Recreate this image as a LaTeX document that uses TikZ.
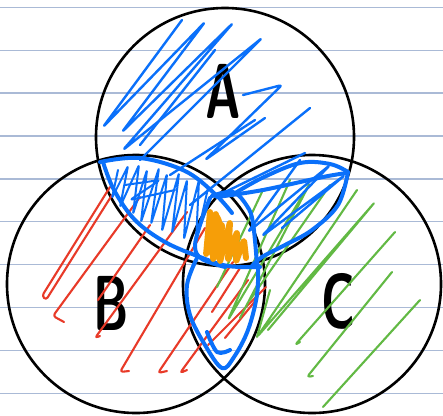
\documentclass[tikz,border=0pt]{standalone}
\definecolor{ruleblue}{RGB}{170,186,214}
\definecolor{penblue}{RGB}{10,112,250}
\definecolor{penred}{RGB}{232,58,40}
\definecolor{pengreen}{RGB}{98,185,68}
\definecolor{penorange}{RGB}{246,158,8}
\begin{document}
\begin{tikzpicture}[x=1pt,y=-1pt,
  rule/.style={draw=ruleblue,line width=1.3pt},
  ring/.style={draw=black,line width=2.6pt},
  bluepen/.style={draw=penblue,line width=2.4pt,line cap=round,line join=round,rounded corners=3pt},
  bluethick/.style={draw=penblue,line width=4pt,line cap=round,line join=round},
  redpen/.style={draw=penred,line width=2.1pt,line cap=round,line join=round,rounded corners=3pt},
  greenpen/.style={draw=pengreen,line width=2.1pt,line cap=round,line join=round,rounded corners=3pt},
  orangepen/.style={draw=penorange,line width=6pt,line cap=round,line join=round,rounded corners=2pt},
  letter/.style={font=\sffamily\bfseries\fontsize{78}{78}\selectfont,xscale=0.62,inner sep=0pt}]
\useasboundingbox (0,0) rectangle (443,415);
\fill[white] (0,0) rectangle (443,415);
% ruled paper
\foreach \yy in {7.3,50.2,93.1,136,178.9,221.8,264.7,307.6,350.5,393.4}
  \draw[rule] (0,\yy) -- (443,\yy);
% circles
\draw[ring] (225,137) circle[radius=129pt];
\draw[ring] (136,284) circle[radius=129pt];
\draw[ring] (312,284) circle[radius=129pt];
% labels
\node[letter] (la) at (223,91) {A};
\node[letter] (lb) at (111,303) {B};
\node[letter] (lc) at (338,301) {C};
% red hatching in B
\draw[redpen] (110,187) -- (42,296) -- (46,300) -- (112,195);
\draw[redpen] (140,197) -- (53,316) -- (64,322);
\draw[redpen] (187,212) -- (95,338) -- (100,336);
\draw[redpen] (205,228) -- (120,372) -- (129,371);
\draw[redpen] (233,262) -- (158,373) -- (167,371);
\draw[redpen] (248,280) -- (180,373) -- (187,370);
\draw[redpen] (266,287) -- (208,345);
\draw[redpen] (150,225) -- (98,300);
\draw[redpen] (240,268) -- (212,312);
\draw[redpen] (256,300) -- (225,338);
% green hatching in C
\draw[greenpen] (262,192) -- (217,287);
\draw[greenpen] (290,180) -- (228,320) -- (310,183) -- (240,318);
\draw[greenpen] (357,190) -- (257,337) -- (375,202) -- (268,330);
\draw[greenpen] (395,232) -- (295,345) -- (300,342);
\draw[greenpen] (392,272) -- (307,377) -- (313,376);
\draw[greenpen] (420,300) -- (323,407);
\draw[greenpen] (330,185) -- (250,300);
\draw[greenpen] (270,290) -- (257,337);
% blue hatching in A
\draw[bluepen] (182,20) -- (103,127) -- (205,22) -- (122,132) -- (233,23) -- (123,150) -- (262,38) -- (140,160);
\draw[bluepen] (243,95) -- (282,85) -- (205,160) -- (265,118);
\draw[bluepen] (310,108) -- (190,205);
\draw[bluepen] (305,153) -- (215,197);
\draw[bluepen] (255,120) -- (170,175);
\draw[bluepen] (215,50) -- (140,145);
% dense blue in left leaf
\draw[bluepen,line width=2pt,rounded corners=2pt]
  (118,170) -- (112,198) -- (128,166) -- (120,207) -- (139,165) -- (133,214)
  -- (147,170) -- (141,222) -- (159,168) -- (151,224) -- (167,174) -- (162,231)
  -- (179,173) -- (172,233) -- (187,180) -- (184,239) -- (199,180) -- (196,242)
  -- (208,188);
\draw[bluepen,line width=2pt] (125,185) -- (160,180) -- (130,200) -- (175,190);
% blue in right leaf
\draw[bluepen] (300,160) -- (248,232) -- (330,165) -- (262,236) -- (345,175) -- (282,228);
% blue leaf outlines
\draw[bluethick] plot[smooth,tension=0.6] coordinates {(100,162) (140,158) (185,171) (215,194) (232,213)};
\draw[bluethick] plot[smooth,tension=0.6] coordinates {(103,162) (114,190) (135,220) (165,242) (200,257) (228,266) (260,267)};
\draw[bluethick] plot[smooth,tension=0.6] coordinates {(232,195) (262,178) (300,163) (330,164) (348,172)};
\draw[bluethick] plot[smooth,tension=0.6] coordinates {(348,172) (338,205) (312,230) (285,245) (262,257) (252,266)};
\draw[bluethick] plot[smooth,tension=0.6] coordinates {(217,197) (263,190) (323,177) (347,173)};
% center region outline
\draw[bluethick] plot[smooth,tension=0.6] coordinates {(210,198) (200,225) (195,247) (202,259) (225,267)};
\draw[bluethick] plot[smooth,tension=0.6] coordinates {(212,196) (233,192) (247,206) (253,223) (257,265)};
% bottom leaf
\draw[bluethick] plot[smooth,tension=0.6] coordinates {(197,258) (187,285) (190,315) (205,345) (222,368) (234,357) (248,330) (257,295) (258,265)};
\draw[bluethick] plot[smooth,tension=0.6] coordinates {(207,332) (217,352) (230,350)};
% orange center
\fill[penorange] (215,236) ellipse[x radius=9pt,y radius=24pt];
\draw[orangepen] (210,212) -- (206,255) -- (216,213) -- (213,260) -- (222,224) -- (220,262)
  -- (230,222) -- (228,260) -- (237,232) -- (236,262) -- (244,240) -- (246,258);
\end{tikzpicture}
\end{document}
